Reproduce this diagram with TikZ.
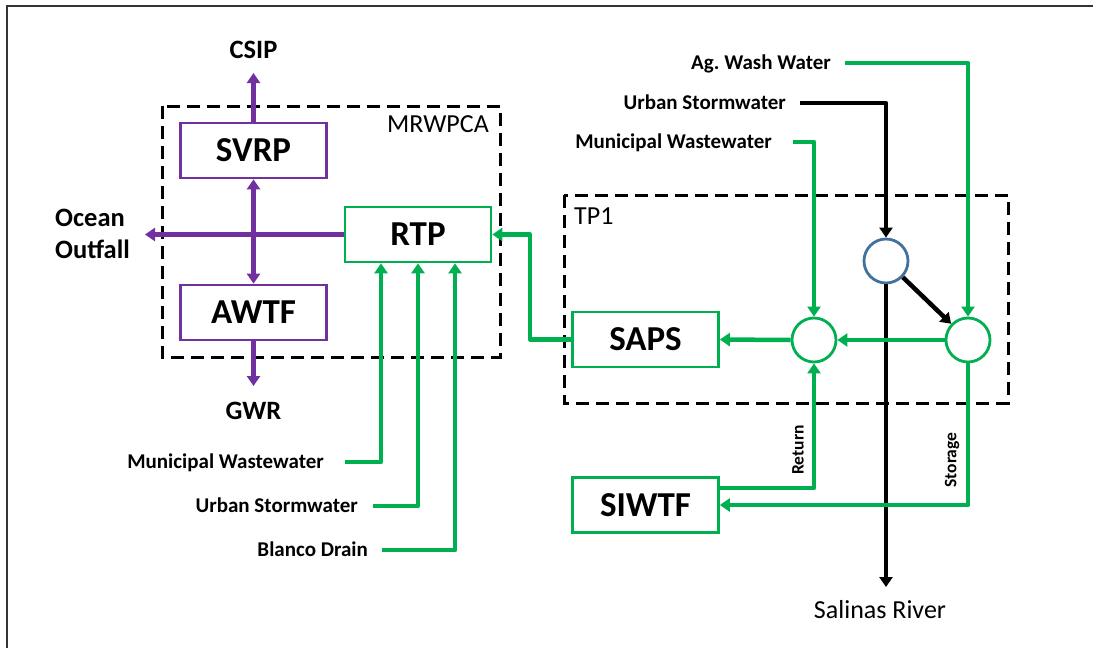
\documentclass[tikz,border=0pt]{standalone}
\usepackage{fontspec}
\setmainfont{Carlito}
\usetikzlibrary{arrows.meta}
\definecolor{pur}{HTML}{7030A0}
\definecolor{grn}{HTML}{00B050}
\definecolor{blu}{HTML}{41719C}
\begin{document}
\begin{tikzpicture}[x=1pt,y=-1pt,
  box/.style={draw, line width=2.7pt, minimum width=146pt, minimum height=55pt, inner sep=0pt,
    font=\bfseries\fontsize{35}{35}\selectfont},
  pbox/.style={box, draw=pur},
  gbox/.style={box, draw=grn},
  circ/.style={circle, draw=grn, line width=2.8pt, minimum size=44pt, inner sep=0pt},
  bcirc/.style={circ, draw=blu},
  lab/.style={inner sep=0pt, font=\bfseries\fontsize{21}{22}\selectfont},
  mlab/.style={inner sep=0pt, font=\bfseries\fontsize{26.5}{32}\selectfont},
  rlab/.style={inner sep=0pt, font=\fontsize{26}{30}\selectfont},
  vlab/.style={inner sep=0pt, font=\bfseries\fontsize{17.5}{18}\selectfont, rotate=90},
  tip/.style={-{Triangle[length=10pt,width=13pt]}},
  parr/.style={tip, draw=pur, line width=4.5pt},
  garr/.style={tip, draw=grn, line width=4.5pt, line join=round},
  karr/.style={tip, draw=black, line width=4.5pt, line join=round},
  dbox/.style={draw=black, line width=3pt, dash pattern=on 13pt off 7pt}
]
\useasboundingbox (0,0) rectangle (1093,648);
% frame
\draw[line width=1.5pt, black!80] (7,648) -- (7,6) -- (1093,6);

% dashed groups
\draw[dbox] (162,106) rectangle (500,357);
\draw[dbox] (564,195) rectangle (1008,403);
\node[rlab, anchor=east] (mrw) at (489,124) {MRWPCA};
\node[rlab, anchor=west] (tp1) at (574,216) {TP1};

% boxes
\node[pbox] (svrp) at (253.5,150.5) {SVRP};
\node[pbox] (awtf) at (253.5,312.5) {AWTF};
\node[gbox] (rtp) at (418,234.5) {RTP};
\node[gbox] (saps) at (645.5,339.5) {SAPS};
\node[gbox] (siwtf) at (645.5,505) {SIWTF};

% circles
\node[bcirc] (c0) at (886,261) {};
\node[circ] (g1) at (814,340) {};
\node[circ] (g2) at (968,340) {};

% purple outputs
\node[mlab] (csip) at (253.5,50) {CSIP};
\node[mlab] (gwr) at (253.5,411) {GWR};
\node[mlab, align=left, anchor=west] (ocean) at (55,234) {Ocean\\Outfall};
\coordinate (csipc) at (253.5,73);
\coordinate (gwrc) at (253.5,386);
\coordinate (oc) at (145,234.5);
\draw[parr] (svrp.north) -- (csipc);
\draw[parr, {Triangle[length=10pt,width=13pt]}-{Triangle[length=10pt,width=13pt]}] (svrp.south) -- (awtf.north);
\draw[parr] (rtp.west) -- (oc);
\draw[parr] (awtf.south) -- (gwrc);

% left green inputs
\node[lab, anchor=base east] (mw1) at (324,468.8) {Municipal Wastewater};
\node[lab, anchor=base east] (us1) at (358,512.8) {Urban Stormwater};
\node[lab, anchor=base east] (bd1) at (368,556.8) {Blanco Drain};
\draw[garr] ([xshift=21pt,yshift=6.8pt]mw1.base east) -| ([xshift=-37pt]rtp.south);
\draw[garr] ([xshift=15pt,yshift=6.8pt]us1.base east) -| (rtp.south);
\draw[garr] ([xshift=14pt,yshift=6.8pt]bd1.base east) -| ([xshift=37pt]rtp.south);

% right inputs
\node[lab, anchor=base east] (ag) at (831,69.8) {Ag.\ Wash Water};
\node[lab, anchor=base east] (us2) at (786,109.8) {Urban Stormwater};
\node[lab, anchor=base east] (mw2) at (772,148.8) {Municipal Wastewater};
\draw[garr] ([xshift=14pt,yshift=6.8pt]ag.base east) -| (g2.north);
\draw[karr] ([xshift=14pt,yshift=6.8pt]us2.base east) -| (c0.north);
\draw[garr] ([xshift=21pt,yshift=6.8pt]mw2.base east) -| (g1.north);

% river
\coordinate (riv) at (886,587);
\node[rlab] (salinas) at (880,610) {Salinas River};
\draw[karr] (c0.south) -- (riv);
\draw[karr] (c0) -- (g2);

% TP1 internal flows
\draw[garr] (g2.west) -- (g1.east);
\draw[garr] (g1.west) -- (saps.east);
\draw[garr] (saps.west) -- ++(-41,0) |- (rtp.east);

% return / storage
\draw[garr] ([yshift=17pt]siwtf.east) -| (g1.south);
\draw[garr] (g2.south) |- (siwtf.east);
\node[vlab] (ret) at (798,450) {Return};
\node[vlab] (sto) at (952,460) {Storage};
\end{tikzpicture}
\end{document}
